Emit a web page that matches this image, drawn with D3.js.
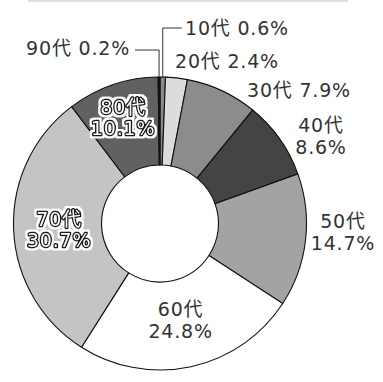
<!DOCTYPE html>
<html>
<head>
<meta charset="utf-8">
<script src="https://cdn.jsdelivr.net/npm/d3@7/dist/d3.min.js"></script>
<style>
  html, body { margin: 0; padding: 0; background: #fff; }
  svg { display: block; }
  text { font-family: "DejaVu Sans", "Noto Sans CJK JP", sans-serif; }
</style>
</head>
<body>
<svg id="chart" width="383" height="382"></svg>
<script>
// Age-group shares (%)
const categories = ["10代", "20代", "30代", "40代", "50代", "60代", "70代", "80代", "90代"];
const shares     = [0.6, 2.4, 7.9, 8.6, 14.7, 24.8, 30.7, 10.1, 0.2];
const fills      = ["#8a8a8a", "#dcdcdc", "#8c8c8c", "#444444", "#a3a3a3", "#ffffff", "#c4c4c4", "#616161", "#111111"];

const width = 383, height = 382;
const cx = 160, cy = 223.5;
const outerR = 146.5, innerR = 58.5;

const svg = d3.select("#chart");

// white outer glow used behind outlined labels
const defs = svg.append("defs");
const glow = defs.append("filter").attr("id", "halo")
  .attr("x", "-20%").attr("y", "-30%").attr("width", "140%").attr("height", "160%");
glow.append("feMorphology").attr("in", "SourceAlpha").attr("operator", "dilate").attr("radius", 1.5).attr("result", "grown");
glow.append("feFlood").attr("flood-color", "#ffffff").attr("result", "white");
glow.append("feComposite").attr("in", "white").attr("in2", "grown").attr("operator", "in").attr("result", "ring");
const merge = glow.append("feMerge");
merge.append("feMergeNode").attr("in", "ring");
merge.append("feMergeNode").attr("in", "SourceGraphic");

// faint rule across the top
svg.append("line")
  .attr("x1", 28).attr("x2", 348)
  .attr("y1", 1).attr("y2", 1)
  .attr("stroke", "#d4d4d4").attr("stroke-width", 1.5);

const pie = d3.pie().sort(null).value(d => d.v);
const data = categories.map((c, i) => ({ c, v: shares[i], fill: fills[i] }));
const arcs = pie(data);

const arc = d3.arc().innerRadius(innerR).outerRadius(outerR);

const g = svg.append("g").attr("transform", `translate(${cx},${cy})`);

g.selectAll("path.slice")
  .data(arcs)
  .enter().append("path")
  .attr("class", "slice")
  .attr("d", arc)
  .attr("fill", d => d.data.fill)
  .attr("stroke", "#111")
  .attr("stroke-width", 1.1)
  .attr("stroke-linejoin", "miter");

// label placement: "in" = inside the ring along the slice's mid angle
const labelLayout = {
  "10代": { mode: "line", x: 185, y: 35 },
  "20代": { mode: "single", x: 175, y: 68 },
  "30代": { mode: "single", x: 247, y: 97 },
  "40代": { mode: "double", x: 321, y: 132 },
  "50代": { mode: "double", x: 343, y: 228 },
  "60代": { mode: "in", r: 97 },
  "70代": { mode: "in", r: 101, halo: true },
  "80代": { mode: "in", r: 114, halo: true },
  "90代": { mode: "lineLeft", x: 130, y: 55 }
};

const textColor = "#333";
const fontSize = 19;
const spacing = 0.8;
const lineGap = 21.5;

const labels = svg.append("g");

function drawText(x, y, str, anchor, halo) {
  const t = labels.append("text").attr("x", x).attr("y", y).attr("text-anchor", anchor)
    .attr("font-size", fontSize).attr("letter-spacing", spacing)
    .text(str);
  if (halo) {
    t.attr("fill", "#fff").attr("stroke", "#1a1a1a").attr("stroke-width", 3)
      .attr("stroke-linejoin", "round").attr("paint-order", "stroke")
      .attr("filter", "url(#halo)");
  } else {
    t.attr("fill", textColor);
  }
}

arcs.forEach(a => {
  const cat = a.data.c;
  const pct = a.data.v.toFixed(1) + "%";
  const L = labelLayout[cat];
  const mid = (a.startAngle + a.endAngle) / 2;

  if (L.mode === "in") {
    const x = cx + Math.sin(mid) * L.r;
    const y = cy - Math.cos(mid) * L.r;
    drawText(x, y - 2, cat, "middle", L.halo);
    drawText(x, y - 2 + lineGap, pct, "middle", L.halo);
  } else if (L.mode === "double") {
    drawText(L.x, L.y, cat, "middle");
    drawText(L.x, L.y + lineGap, pct, "middle");
  } else if (L.mode === "single") {
    drawText(L.x, L.y, cat + " " + pct, "start");
  } else {
    // leader line from the slice's outer edge up to the label
    const px = cx + Math.sin(mid) * outerR;
    const py = cy - Math.cos(mid) * outerR;
    if (L.mode === "line") {
      labels.append("path")
        .attr("d", `M${px},${py} V${L.y - 7} H${L.x - 3}`)
        .attr("fill", "none").attr("stroke", "#333").attr("stroke-width", 1);
      drawText(L.x, L.y, cat + " " + pct, "start");
    } else {
      labels.append("path")
        .attr("d", `M${px},${py} V${L.y - 5} H${L.x + 5}`)
        .attr("fill", "none").attr("stroke", "#333").attr("stroke-width", 1);
      drawText(L.x, L.y, cat + " " + pct, "end");
    }
  }
});
</script>
</body>
</html>
